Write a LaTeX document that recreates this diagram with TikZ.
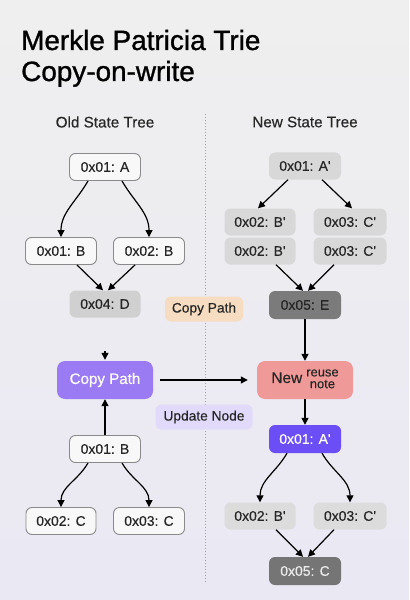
\documentclass[tikz,border=0pt]{standalone}
\usepackage{fontspec}
\setmainfont{Liberation Sans}[BoldFont=Liberation Sans, BoldFeatures={FakeBold=0.35}]
\newfontfamily\titlefont{Liberation Sans}[BoldFont=Liberation Sans, BoldFeatures={FakeBold=1.1}]
\usetikzlibrary{arrows.meta}
\newcommand{\pr}{\textquotesingle}
\definecolor{bgc}{HTML}{EFEFEF}
\definecolor{bgd}{HTML}{EAE8F3}
\definecolor{wborder}{HTML}{8A8A8A}
\definecolor{wfill}{HTML}{F8F8F8}
\definecolor{lgray}{HTML}{D8D8D8}
\definecolor{mgray}{HTML}{D0D0D0}
\definecolor{dgray}{HTML}{7B7B7B}
\definecolor{cgray}{HTML}{757575}
\definecolor{purp}{HTML}{9B7BF3}
\definecolor{bpurp}{HTML}{6B4EF5}
\definecolor{salmon}{HTML}{EF9A98}
\definecolor{peach}{HTML}{F6DCC0}
\definecolor{lav}{HTML}{E2DAFA}
\definecolor{dotc}{HTML}{A0A0A0}
\tikzset{
  every node/.style={font=\bfseries\fontsize{14}{15}\selectfont, text=black!85},
  nbox/.style={rectangle, rounded corners=6bp, minimum width=71bp, minimum height=27bp, inner sep=0pt},
  wbox/.style={nbox, fill=wfill, draw=wborder, line width=0.9bp},
  gbox/.style={nbox, fill=lgray},
  tag/.style={rectangle, rounded corners=6bp, minimum height=25bp, inner sep=0pt, font=\bfseries\fontsize{13.8}{15}\selectfont},
  arr/.style={-{Triangle[length=7bp,width=7bp]}, line width=1.2bp, black},
}
\begin{document}
\begin{tikzpicture}[x=1bp,y=1bp]
\shade[top color=bgc, bottom color=bgd] (0,0) rectangle (409,-600);
\useasboundingbox (0,0) rectangle (409,-600);
% title
\node[anchor=base west, inner sep=0pt, font=\titlefont\bfseries\fontsize{28}{30}\selectfont, text=black] (t1) at (21,-50) {Merkle Patricia Trie};
\node[anchor=base west, inner sep=0pt, font=\titlefont\bfseries\fontsize{28}{30}\selectfont, text=black] (t2) at (21,-81) {Copy-on-write};
\node[font=\bfseries\fontsize{15.3}{16}\selectfont, text=black!85] (old) at (105,-122) {Old State Tree};
\node[font=\bfseries\fontsize{15.3}{16}\selectfont, text=black!85] (new) at (305,-122) {New State Tree};
% divider
\coordinate (dtop) at (205,-114);
\coordinate (dbot) at (205,-582);
\draw[dotc, line width=1bp, dotted] (dtop) -- (dbot);
% old tree
\node[wbox] (oa) at (105,-167) {0x01: A};
\node[wbox] (ob1) at (61,-251) {0x01: B};
\node[wbox] (ob2) at (149,-251) {0x02: B};
\node[nbox, fill=mgray] (od) at (105,-304) {0x04: D};
\draw[arr] ([xshift=-17bp]oa.south) to[out=-120,in=90] (ob1.north);
\draw[arr] ([xshift=17bp]oa.south) to[out=-60,in=90] (ob2.north);
\draw[arr] ([xshift=16bp]ob1.south) -- ([xshift=-2bp]od.north);
\draw[arr] ([xshift=-14bp]ob2.south) -- ([xshift=3bp]od.north);
% new tree
\node[gbox, minimum width=72bp] (na) at (305,-166) {0x01: A\pr};
\node[gbox] (nb1) at (260,-222) {0x02: B\pr};
\node[gbox] (nb2) at (260,-251) {0x02: B\pr};
\node[gbox, minimum width=73bp] (nc1) at (350,-222) {0x03: C\pr};
\node[gbox, minimum width=73bp] (nc2) at (350,-251) {0x03: C\pr};
\node[nbox, fill=dgray, minimum width=72bp, minimum height=28bp] (ne) at (305,-305) {0x05: E};
\draw[arr] ([xshift=-17bp]na.south) -- ([xshift=-2bp]nb1.north);
\draw[arr] ([xshift=17bp]na.south) -- ([xshift=2bp]nc1.north);
\draw[arr] ([xshift=16bp]nb2.south) -- ([xshift=-2bp]ne.north);
\draw[arr] ([xshift=-16bp]nc2.south) -- ([xshift=3bp]ne.north);
% middle
\node[tag, fill=peach, minimum width=78bp] (tcp) at (204,-309) {Copy Path};
\node[tag, fill=lav, minimum width=97bp] (tun) at (204,-417) {Update Node};
\node[rectangle, rounded corners=8bp, fill=purp, minimum width=96bp, minimum height=38bp, inner sep=0pt, text=white, font=\bfseries\fontsize{15.2}{17}\selectfont] (cp) at (105,-380) {Copy Path};
\node[rectangle, rounded corners=8bp, fill=salmon, minimum width=96bp, minimum height=38bp, inner sep=0pt] (nw) at (305,-380)
  {{\fontsize{15.5}{17}\selectfont New}\hspace{4bp}{\fontsize{13}{11.5}\selectfont\begin{tabular}{@{}c@{}}reuse\\note\end{tabular}}};
\coordinate (cptop) at (105,-351);
\draw[arr, shorten >=1bp] (cptop) -- (cp.north);
\draw[arr] ([xshift=7bp]cp.east) -- ([xshift=-9bp]nw.west);
\draw[arr] (ne.south) -- (nw.north);
% lower left
\node[wbox] (lb) at (105,-449) {0x01: B};
\node[wbox, minimum width=70bp] (lc1) at (61,-521) {0x02: C};
\node[wbox] (lc2) at (149,-521) {0x03: C};
\draw[arr] (lb.north) -- (cp.south);
\draw[arr] ([xshift=-17bp]lb.south) to[out=-120,in=90] (lc1.north);
\draw[arr] ([xshift=17bp]lb.south) to[out=-60,in=90] (lc2.north);
% lower right
\node[nbox, fill=bpurp, minimum width=72bp, minimum height=28bp, text=white] (ra) at (305,-439) {0x01: A\pr};
\node[gbox, fill=lgray!90!white] (rb) at (260,-516) {0x02: B\pr};
\node[gbox, fill=lgray!90!white, minimum width=73bp] (rc) at (350,-516) {0x03: C\pr};
\node[nbox, fill=cgray, minimum width=72bp, minimum height=28bp, text=white!92!black] (rd) at (305,-571) {0x05: C};
\draw[arr] (nw.south) -- (ra.north);
\draw[arr] ([xshift=-18bp]ra.south) to[out=-120,in=90] (rb.north);
\draw[arr] ([xshift=17bp]ra.south) to[out=-60,in=90] (rc.north);
\draw[arr] ([xshift=16bp]rb.south) -- ([xshift=-2bp]rd.north);
\draw[arr] ([xshift=-16bp]rc.south) -- ([xshift=3bp]rd.north);
\end{tikzpicture}
\end{document}
